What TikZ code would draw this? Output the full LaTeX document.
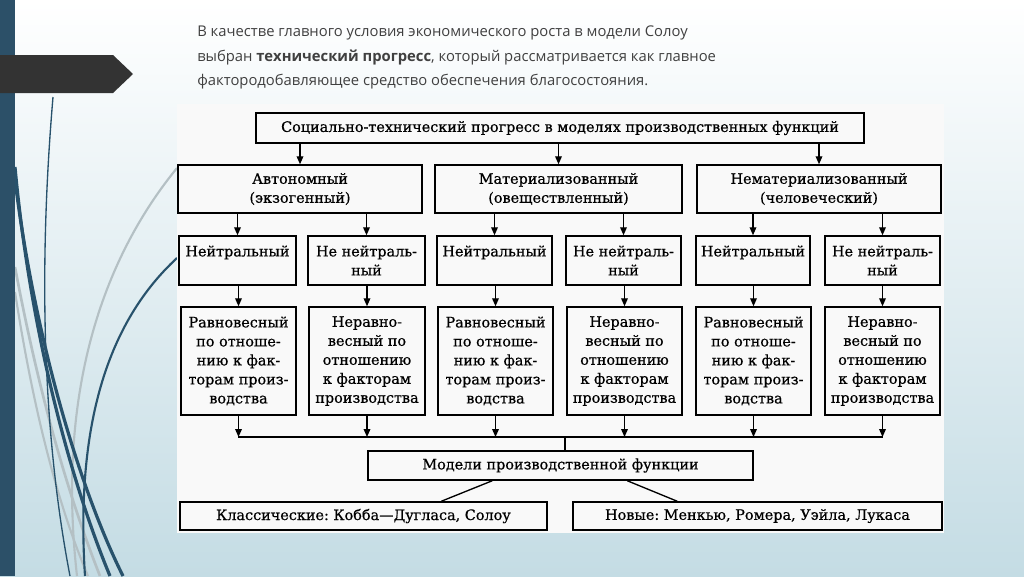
\documentclass[tikz,border=0pt]{standalone}
\usepackage{fontspec}
\setmainfont[FakeBold=0.6]{DejaVu Serif}
\newfontfamily\slidefont{Open Sans}
\usetikzlibrary{arrows.meta,calc}
\frenchspacing
\definecolor{stripblue}{RGB}{44,80,104}
\definecolor{curveblue}{RGB}{40,82,108}
\definecolor{curvegray}{RGB}{180,192,196}
\definecolor{bgbottom}{RGB}{196,220,228}
\definecolor{titlegray}{RGB}{64,64,64}
\definecolor{banner}{RGB}{51,51,51}
\definecolor{scanbg}{RGB}{249,249,249}
\tikzset{
  box/.style={draw=black, line width=1.1pt, inner sep=0pt, align=center,
    font=\fontsize{10.8}{14.25}\selectfont},
  arr/.style={line width=1pt, -{Triangle[length=6pt,width=5pt]}},
  ln/.style={line width=1pt},
}
\newcommand\bbox[6]{\node[box, minimum width={(#4-#2)*0.75pt}, minimum height={(#5-#3)*0.75pt}] (#1) at ({(#2+#4)/2},{(#3+#5)/2}) {#6};}
\begin{document}
\begin{tikzpicture}[x=0.75pt,y=-0.75pt]
\useasboundingbox (0,0) rectangle (1024,576);
% background
\shade[top color=white, bottom color=bgbottom] (0,0) rectangle (1024,576);
% decorative curves
\draw[curvegray, line width=1.6pt] (177,168) .. controls (110,250) and (55,380) .. (77,576);
\draw[curvegray, line width=2pt] (15,267) .. controls (40,400) and (70,500) .. (100,576);
\draw[curvegray, line width=1.6pt] (15,292) .. controls (35,420) and (60,510) .. (88,576);
\draw[curveblue, line width=1pt] (53,97) .. controls (40,250) and (40,420) .. (70,576);
\draw[curveblue, line width=2.4pt] (15,167) .. controls (30,330) and (70,480) .. (110,576);
\draw[curveblue, line width=2.4pt] (15,180) .. controls (35,340) and (80,490) .. (123,576);
\draw[curveblue, line width=1.6pt] (177,258) .. controls (110,320) and (75,420) .. (85,576);
% left strip
\fill[stripblue] (0,0) rectangle (15,576);
% banner
\fill[banner] (0,55) -- (113,55) -- (133,74) -- (113,93) -- (0,93) -- cycle;
% title
\node[anchor=north west, align=left, inner sep=0pt, text=titlegray,
  font=\slidefont\fontsize{11.1}{18.2}\selectfont] (title) at (197,26)
  {В качестве главного условия экономического роста в модели Солоу\\
   выбран \textbf{технический прогресс}, который рассматривается как главное\\
   фактородобавляющее средство обеспечения благосостояния.};
% scanned diagram background
\fill[scanbg] (177,104) rectangle (944,533);
% level 1
\bbox{top}{256}{113}{864}{143}{Социально-технический прогресс в моделях производственных функций}
% level 2
\bbox{a1}{178}{165}{422}{213}{Автономный\\(экзогенный)}
\bbox{a2}{435}{165}{682}{213}{Материализованный\\(овеществленный)}
\bbox{a3}{697}{165}{941}{213}{Нематериализованный\\(человеческий)}
% level 3
\bbox{n1}{179}{236}{296}{285}{Нейтральный\\~}
\bbox{n2}{308}{236}{425}{285}{Не нейтраль-\\ный}
\bbox{n3}{437}{236}{552}{285}{Нейтральный\\~}
\bbox{n4}{566}{236}{681}{285}{Не нейтраль-\\ный}
\bbox{n5}{696}{236}{810}{285}{Нейтральный\\~}
\bbox{n6}{825}{236}{940}{285}{Не нейтраль-\\ный}
% level 4
\bbox{e1}{181}{307}{296}{415}{Равновесный\\по отноше-\\нию к фак-\\торам произ-\\водства}
\bbox{e2}{309}{307}{425}{415}{Неравно-\\весный по\\отношению\\к факторам\\производства}
\bbox{e3}{438}{307}{553}{415}{Равновесный\\по отноше-\\нию к фак-\\торам произ-\\водства}
\bbox{e4}{567}{307}{682}{415}{Неравно-\\весный по\\отношению\\к факторам\\производства}
\bbox{e5}{696}{307}{811}{415}{Равновесный\\по отноше-\\нию к фак-\\торам произ-\\водства}
\bbox{e6}{825}{307}{940}{415}{Неравно-\\весный по\\отношению\\к факторам\\производства}
% models
\bbox{model}{368}{451}{753}{480}{Модели производственной функции}
\bbox{cl}{180}{502}{547}{530}{Классические: Кобба—Дугласа, Солоу}
\bbox{nw}{573}{502}{942}{530}{Новые: Менкью, Ромера, Уэйла, Лукаса}
% connectors
\foreach \c in {a1,a2,a3}
  \draw[arr] (\c.north |- top.south) -- (\c.north);
\foreach \p/\c in {a1/n1,a1/n2,a2/n3,a2/n4,a3/n5,a3/n6}
  \draw[arr] (\c.north |- \p.south) -- (\c.north);
\foreach \p/\c in {n1/e1,n2/e2,n3/e3,n4/e4,n5/e5,n6/e6}
  \draw[arr] (\c.north |- \p.south) -- (\c.north);
\coordinate (hl) at (238,437);
\coordinate (hr) at (883,437);
\coordinate (hm) at (565,437);
\draw[ln] (hl) -- (hr);
\foreach \c in {e1,e2,e3,e4,e5,e6}
  \draw[arr] (\c.south) -- (\c.south |- hl);
\draw[ln] (hm) -- (hm |- model.north);
\draw[ln] ($(model.south west)+(125,0)$) -- ($(cl.north west)+(262,0)$);
\draw[ln] ($(model.south west)+(260,0)$) -- ($(nw.north west)+(105,0)$);
\end{tikzpicture}
\end{document}
